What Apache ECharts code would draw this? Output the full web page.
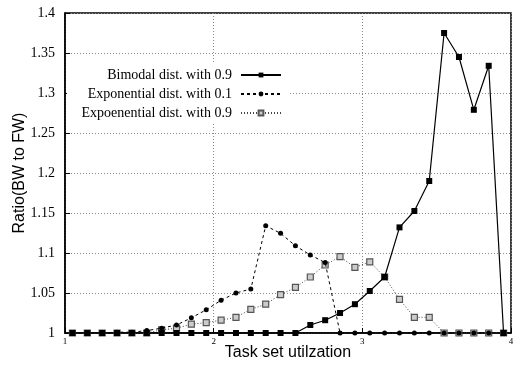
<!DOCTYPE html>
<html>
<head>
<meta charset="utf-8">
<script src="https://cdn.jsdelivr.net/npm/echarts@6/dist/echarts.min.js"></script>
<style>
  html, body { margin: 0; padding: 0; background: #fff; }
  #chart { width: 513px; height: 367px; }
</style>
</head>
<body>
<div id="chart"></div>
<script>
// utilization values of the sample points
var util = [1.05, 1.15, 1.25, 1.35, 1.45, 1.55, 1.65, 1.75, 1.85, 1.95,
  2.05, 2.15, 2.25, 2.35, 2.45, 2.55, 2.65, 2.75, 2.85, 2.95,
  3.05, 3.15, 3.25, 3.35, 3.45, 3.55, 3.65, 3.75, 3.85, 3.95]
var bimodal09 = [1, 1, 1, 1, 1, 1, 1, 1, 1, 1,
  1, 1, 1, 1, 1, 1, 1.010, 1.016, 1.025, 1.036,
  1.0525, 1.070, 1.132, 1.1525, 1.19, 1.375, 1.345, 1.279, 1.334, 1]
var exp01 = [1, 1, 1, 1.001, 1.001, 1.003, 1.006, 1.010, 1.019, 1.029,
  1.041, 1.050, 1.055, 1.134, 1.1246, 1.109, 1.0975, 1.088, 1, 1,
  1, 1, 1, 1, 1, 1, 1, 1, 1, 1]
var exp09 = [1, 1, 1, 1, 1, 1, 1.004, 1.006, 1.011, 1.013,
  1.016, 1.0196, 1.0296, 1.036, 1.048, 1.057, 1.070, 1.085, 1.0954, 1.082,
  1.089, 1.070, 1.042, 1.0196, 1.0196, 1, 1, 1, 1, 1]
var names = ['Bimodal dist. with 0.9', 'Exponential dist. with 0.1', 'Expoenential dist. with 0.9']

function pairs(vals) {
  return util.map(function (u, i) { return [u, vals[i]] })
}

var myChart = echarts.init(document.getElementById('chart'))
var serif = '"Liberation Serif", "DejaVu Serif", serif'
var sans = '"Liberation Sans", Arial, sans-serif'
var gridLine = { show: true, lineStyle: { color: '#888', type: [1, 2], width: 1 } }

function legendAt(name, top) {
  return {
    data: [name],
    right: 231,
    top: top,
    align: 'right',
    itemWidth: 40,
    itemHeight: 6,
    padding: 0,
    z: 6,
    selectedMode: false,
    textStyle: { fontFamily: serif, fontSize: 14, color: '#000', padding: [0, 4, 0, 0] }
  }
}

var option = {
  animation: false,
  backgroundColor: '#fff',
  grid: {
    left: 65, right: 2, top: 13, bottom: 34,
    outerBoundsMode: 'none',
    containLabel: false,
    show: true, borderColor: '#000', borderWidth: 1.5
  },
  legend: [
    legendAt(names[0], 68),
    legendAt(names[1], 87),
    legendAt(names[2], 106)
  ],
  graphic: [{
    type: 'rect',
    z: 5,
    shape: { x: 67, y: 64, width: 223, height: 60 },
    style: { fill: '#fff' }
  }],
  xAxis: {
    type: 'value',
    min: 1, max: 4, interval: 1,
    name: 'Task set utilzation',
    nameLocation: 'middle',
    nameMoveOverlap: false,
    nameGap: 12,
    nameTextStyle: { fontFamily: sans, fontSize: 16, color: '#000' },
    axisLine: { show: true, onZero: false, lineStyle: { color: '#000', width: 1.5 } },
    axisTick: { show: true, inside: true, length: 5, lineStyle: { color: '#000' } },
    axisLabel: { fontFamily: serif, fontSize: 9, color: '#000', margin: 4 },
    splitLine: gridLine
  },
  yAxis: {
    type: 'value',
    min: 1, max: 1.4, interval: 0.05,
    name: 'Ratio(BW to FW)',
    nameLocation: 'middle',
    nameMoveOverlap: false,
    nameGap: 37,
    nameTextStyle: { fontFamily: sans, fontSize: 16, color: '#000' },
    axisLine: { show: true, lineStyle: { color: '#000', width: 1.5 } },
    axisTick: { show: true, inside: true, length: 5, lineStyle: { color: '#000' } },
    axisLabel: { fontFamily: serif, fontSize: 14, color: '#000', margin: 10 },
    splitLine: gridLine
  },
  series: [
    {
      name: names[2],
      type: 'line',
      z: 2,
      symbol: 'rect',
      symbolSize: 6,
      itemStyle: { color: '#ccc', borderColor: '#555', borderWidth: 1.2 },
      lineStyle: { color: '#444', width: 1, type: [1, 2] },
      data: pairs(exp09)
    },
    {
      name: names[1],
      type: 'line',
      z: 3,
      symbol: 'circle',
      symbolSize: 5,
      itemStyle: { color: '#000' },
      lineStyle: { color: '#000', width: 1, type: [3, 3] },
      data: pairs(exp01)
    },
    {
      name: names[0],
      type: 'line',
      z: 4,
      symbol: 'rect',
      symbolSize: 6,
      itemStyle: { color: '#000' },
      lineStyle: { color: '#000', width: 1.2 },
      data: pairs(bimodal09)
    }
  ]
}

myChart.setOption(option)
</script>
</body>
</html>
